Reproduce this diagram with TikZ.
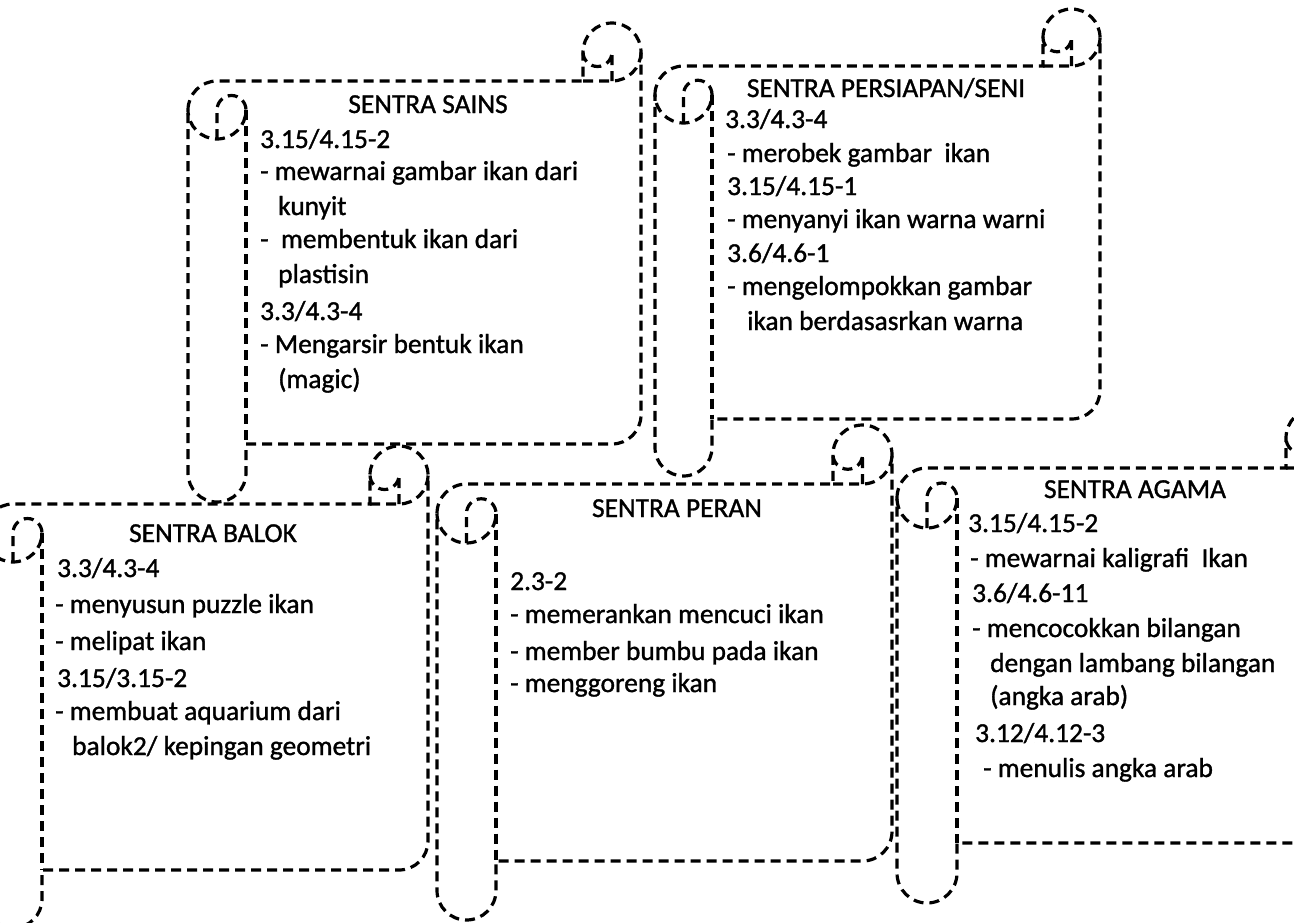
\documentclass[tikz,border=0pt]{standalone}
\usepackage{fontspec}
\setmainfont{Carlito}[FakeBold=1.2]
\newcommand\drawscroll[5]{%
 \pgfmathsetmacro\qL{#1}\pgfmathsetmacro\qT{-(#2)}\pgfmathsetmacro\qR{#3}\pgfmathsetmacro\qB{-(#4)}%
 \pgfmathsetmacro\qc{#5}\pgfmathsetmacro\qh{#5/2}\pgfmathsetmacro\qq{#5/4}%
 \pgfmathsetmacro\qyt{\qT-\qc}%
 \pgfmathsetmacro\qytc{\qT-\qh}%
 \pgfmathsetmacro\qyiii{\qT-\qc-\qh}%
 \pgfmathsetmacro\qyiv{\qT-2*\qc}%
 \pgfmathsetmacro\qyvi{\qB+\qc}%
 \pgfmathsetmacro\qyv{\qB+\qc+\qh}%
 \pgfmathsetmacro\qyvii{\qB+\qh}%
 \pgfmathsetmacro\qxa{\qL+\qh}\pgfmathsetmacro\qxb{\qL+\qc}%
 \pgfmathsetmacro\qxc{\qR-\qc}\pgfmathsetmacro\qxd{\qR-\qh}%
 \path[scrollline, fill=white] (\qL,\qyiii) arc[start angle=180, delta angle=-90, radius=\qh]
   -- (\qxc,\qyt) -- (\qxc,\qytc) arc[start angle=180, delta angle=-180, radius=\qh]
   -- (\qR,\qyv) arc[start angle=0, delta angle=-90, radius=\qh]
   -- (\qxb,\qyvi) -- (\qxb,\qyvii) arc[start angle=0, delta angle=-180, radius=\qh]
   -- cycle;
 \draw[scrollline] (\qxc,\qyt) -- (\qxd,\qyt) arc[start angle=-90, delta angle=90, radius=\qh];
 \draw[scrollline] (\qxd,\qyt) -- (\qxd,\qytc) arc[start angle=0, delta angle=-180, radius=\qq];
 \draw[scrollline] (\qxa,\qyiv) -- (\qxa,\qyiii) arc[start angle=180, delta angle=-180, radius=\qq]
   arc[start angle=0, delta angle=-180, radius=\qh];
 \draw[scrollline] (\qxb,\qyiii) -- (\qxb,\qyvi);
}
\newcommand\tline[4]{\node[txt] (#1) at (#2,-#3) {#4};}
\newcommand\ttitle[4]{\node[ttl] (#1) at (#2,-#3) {#4};}
\begin{document}
\begin{tikzpicture}[x=1pt,y=1pt,
  scrollline/.style={draw=black, line width=3.2pt, dash pattern=on 10pt off 6pt},
  txt/.style={anchor=base west, inner sep=0pt, font=\fontsize{27.4}{33}\selectfont, text=black},
  ttl/.style={anchor=base, inner sep=0pt, font=\fontsize{27.4}{33}\selectfont, text=black}]
\useasboundingbox (0,0) rectangle (1294,-922);
\clip (0,0) rectangle (1294,-922);
\fill[white] (0,0) rectangle (1294,-922);

% scrolls
\drawscroll{188}{23}{641}{502}{58}
\drawscroll{655}{9}{1100}{476}{57}
\drawscroll{-16}{446}{428}{928}{58}
\drawscroll{437}{425}{892}{920}{59}
\drawscroll{897}{408}{1346}{903}{60}

% SENTRA SAINS
\ttitle{sainsT}{428}{113}{SENTRA SAINS}
\tline{sa1}{260}{148}{3.15/4.15-2}
\tline{sa2}{260}{180}{- mewarnai gambar ikan dari}
\tline{sa3}{278}{215}{kunyit}
\tline{sa4}{260}{248}{- \ membentuk ikan dari}
\tline{sa5}{278}{283}{plastisin}
\tline{sa6}{260}{320}{3.3/4.3-4}
\tline{sa7}{260}{353}{- Mengarsir bentuk ikan}
\tline{sa8}{278}{388}{(magic)}

% SENTRA PERSIAPAN/SENI
\ttitle{seniT}{886}{97}{SENTRA PERSIAPAN/SENI}
\tline{se1}{725}{128}{3.3/4.3-4}
\tline{se2}{727}{162}{- merobek gambar \ ikan}
\tline{se3}{727}{195}{3.15/4.15-1}
\tline{se4}{727}{228}{- menyanyi ikan warna warni}
\tline{se5}{727}{262}{3.6/4.6-1}
\tline{se6}{727}{295}{- mengelompokkan gambar}
\tline{se7}{747}{330}{ikan berdasasrkan warna}

% SENTRA BALOK
\ttitle{balokT}{213}{542}{SENTRA BALOK}
\tline{ba1}{57}{577}{3.3/4.3-4}
\tline{ba2}{55}{613}{- menyusun puzzle ikan}
\tline{ba3}{55}{650}{- melipat ikan}
\tline{ba4}{57}{687}{3.15/3.15-2}
\tline{ba5}{55}{720}{- membuat aquarium dari}
\tline{ba6}{72}{755}{balok2/ kepingan geometri}

% SENTRA PERAN
\ttitle{peranT}{677}{517}{SENTRA PERAN}
\tline{pe1}{510}{590}{2.3-2}
\tline{pe2}{510}{623}{- memerankan mencuci ikan}
\tline{pe3}{510}{660}{- member bumbu pada ikan}
\tline{pe4}{510}{692}{- menggoreng ikan}

% SENTRA AGAMA
\ttitle{agamaT}{1135}{498}{SENTRA AGAMA}
\tline{ag1}{968}{532}{3.15/4.15-2}
\tline{ag2}{970}{567}{- mewarnai kaligrafi \ Ikan}
\tline{ag3}{972}{602}{3.6/4.6-11}
\tline{ag4}{972}{637}{- mencocokkan bilangan}
\tline{ag5}{990}{672}{dengan lambang bilangan}
\tline{ag6}{990}{705}{(angka arab)}
\tline{ag7}{975}{742}{3.12/4.12-3}
\tline{ag8}{983}{777}{- menulis angka arab}
\end{tikzpicture}
\end{document}
